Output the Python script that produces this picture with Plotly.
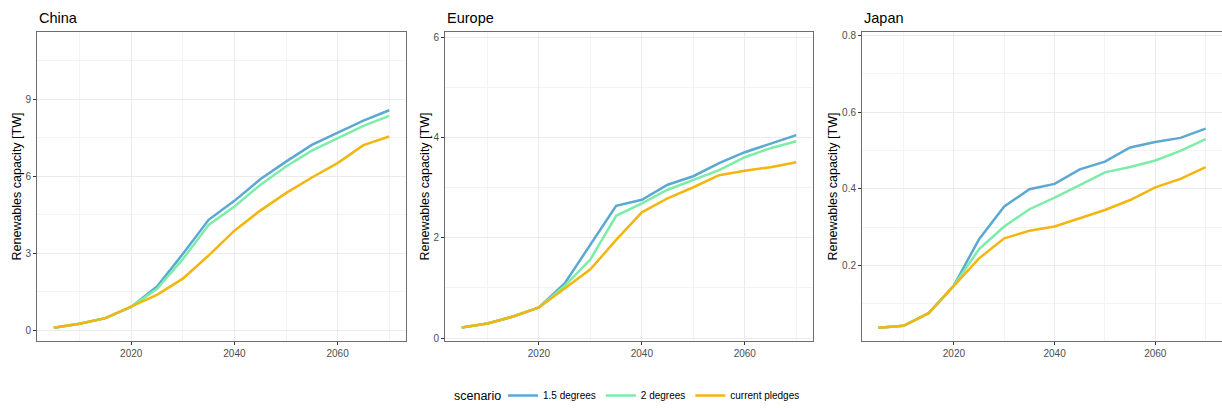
import plotly.graph_objects as go

# Model years shared by every region
years = [2005, 2010, 2015, 2020, 2025, 2030, 2035, 2040, 2045, 2050, 2055, 2060, 2065, 2070]

scenarios = ["1.5 degrees", "2 degrees", "current pledges"]
scenario_colors = ["#5BA8D3", "#7CEDA8", "#F3B60E"]

# Renewables capacity [TW] per region and scenario
china_15 = [0.10, 0.25, 0.47, 0.91, 1.70, 2.97, 4.30, 5.04, 5.88, 6.57, 7.22, 7.70, 8.17, 8.57]
china_2 = [0.10, 0.25, 0.47, 0.91, 1.61, 2.77, 4.10, 4.82, 5.66, 6.38, 7.00, 7.48, 7.96, 8.35]
china_cp = [0.10, 0.25, 0.47, 0.91, 1.38, 2.01, 2.91, 3.88, 4.66, 5.34, 5.95, 6.51, 7.21, 7.55]

europe_15 = [0.21, 0.29, 0.43, 0.61, 1.09, 1.86, 2.64, 2.76, 3.06, 3.23, 3.49, 3.71, 3.88, 4.05]
europe_2 = [0.21, 0.29, 0.43, 0.61, 1.04, 1.57, 2.44, 2.69, 2.96, 3.15, 3.35, 3.61, 3.79, 3.93]
europe_cp = [0.21, 0.29, 0.43, 0.61, 0.99, 1.37, 1.96, 2.51, 2.79, 3.01, 3.25, 3.34, 3.41, 3.51]

japan_15 = [0.038, 0.043, 0.076, 0.148, 0.269, 0.354, 0.399, 0.413, 0.451, 0.471, 0.508, 0.522, 0.533, 0.557]
japan_2 = [0.038, 0.043, 0.076, 0.148, 0.243, 0.302, 0.347, 0.377, 0.410, 0.443, 0.457, 0.474, 0.499, 0.530]
japan_cp = [0.038, 0.043, 0.076, 0.148, 0.219, 0.271, 0.291, 0.302, 0.323, 0.345, 0.371, 0.404, 0.426, 0.457]

regions = ["China", "Europe", "Japan"]
region_series = [
    [china_15, china_2, china_cp],
    [europe_15, europe_2, europe_cp],
    [japan_15, japan_2, japan_cp],
]

# Panel layout (free y scales)
W, H = 1222, 408
x_domains = [(37 / W, 406 / W), (445 / W, 813 / W), (862 / W, 1.0)]
y_domain = (1 - 341 / H, 1 - 32 / H)
y_ranges = [(-0.42, 11.62), (-0.06, 6.11), (0.0035, 0.809)]
y_major = [3, 2, 0.2]
x_range = (2001.75, 2073.25)
ytitle_x = [17, 425, 833]
legend_row_y = 1 - 395.5 / H

FONT = "Liberation Sans, Arial, sans-serif"
GRID = "#EBEBEB"
GRID_MINOR = "#F3F3F3"
FRAME = "#6E6E6E"

fig = go.Figure()

for i, (region, series) in enumerate(zip(regions, region_series)):
    xa = "x" if i == 0 else f"x{i + 1}"
    ya = "y" if i == 0 else f"y{i + 1}"
    for s, (name, color) in enumerate(zip(scenarios, scenario_colors)):
        fig.add_trace(go.Scatter(
            x=years, y=series[s], mode="lines", name=name,
            line=dict(color=color, width=2.5),
            xaxis=xa, yaxis=ya,
            legendgroup=name, showlegend=(i == 0),
        ))

    axis_common = dict(
        showline=True, linecolor=FRAME, linewidth=1,
        ticks="outside", ticklen=3, tickcolor="#333333", tickwidth=1,
        tickfont=dict(family=FONT, size=10, color="#4D4D4D"),
        showgrid=True, gridcolor=GRID, gridwidth=1,
        zeroline=False,
    )
    last_panel = i == len(regions) - 1
    xkey = "xaxis" if i == 0 else f"xaxis{i + 1}"
    ykey = "yaxis" if i == 0 else f"yaxis{i + 1}"
    fig.update_layout(**{
        xkey: dict(
            axis_common, mirror=True, domain=list(x_domains[i]), range=list(x_range),
            anchor=ya, tick0=2020, dtick=20,
            minor=dict(tick0=2010, dtick=10, showgrid=True, gridcolor=GRID_MINOR, gridwidth=0.6),
        ),
        ykey: dict(
            axis_common, mirror=not last_panel, domain=list(y_domain), range=list(y_ranges[i]),
            anchor=xa, tick0=0, dtick=y_major[i],
            minor=dict(tick0=0, dtick=y_major[i] / 2, showgrid=True, gridcolor=GRID_MINOR, gridwidth=0.6),
        ),
    })

    # Facet title
    fig.add_annotation(
        text=region, xref="paper", yref="paper",
        x=x_domains[i][0], y=1 - 18 / H, xanchor="left", yanchor="middle",
        showarrow=False, font=dict(family=FONT, size=14.5, color="#000000"),
    )
    # Y axis title
    fig.add_annotation(
        text="Renewables capacity [TW]", xref="paper", yref="paper",
        x=ytitle_x[i] / W, y=(y_domain[0] + y_domain[1]) / 2,
        xanchor="center", yanchor="middle", textangle=-90,
        showarrow=False, font=dict(family=FONT, size=12.5, color="#000000"),
    )

# Legend title, set beside the legend row
fig.add_annotation(
    text="scenario", xref="paper", yref="paper",
    x=452 / W, y=legend_row_y, xanchor="left", yanchor="middle",
    showarrow=False, font=dict(family=FONT, size=12.5, color="#000000"),
)

fig.update_layout(
    width=W, height=H,
    margin=dict(l=0, r=0, t=0, b=0, autoexpand=False),
    paper_bgcolor="white", plot_bgcolor="white",
    font=dict(family=FONT, color="#000000"),
    showlegend=True,
    legend=dict(
        orientation="h", x=503 / W, xanchor="left", y=legend_row_y, yanchor="middle",
        font=dict(family=FONT, size=10, color="#000000"),
        itemwidth=30, valign="middle", bgcolor="rgba(0,0,0,0)",
    ),
)

fig.write_html("out.html")
